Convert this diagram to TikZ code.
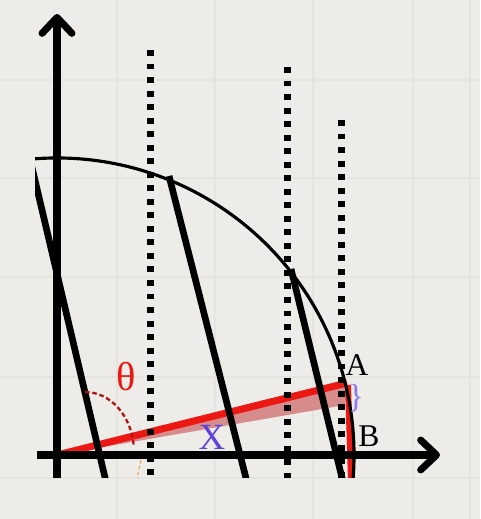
\documentclass[tikz,border=0pt]{standalone}
\usepackage{fontspec}
\setmainfont{Liberation Serif}
\usetikzlibrary{arrows.meta}
\definecolor{papel}{RGB}{237,236,232}
\definecolor{rejilla}{RGB}{229,228,223}
\definecolor{rojo}{RGB}{236,24,20}
\definecolor{rosa}{RGB}{214,140,140}
\definecolor{violeta}{RGB}{98,64,222}
\definecolor{lila}{RGB}{140,122,240}
\definecolor{naranja}{RGB}{232,160,70}
\tikzset{
  eje/.style={
    line width=4pt,
    -{Straight Barb[length=9pt,width=17pt,round]}
  },
  guia/.style={
    line width=3.7pt,
    dash pattern=on 3.4pt off 4.3pt
  },
  corte/.style={
    line width=3.8pt
  },
  circulo/.style={
    line width=1.8pt
  },
  angulo/.style={
    rojo!75!black,
    line width=1.3pt,
    dash pattern=on 2.6pt off 1.6pt
  },
  etiqueta/.style={
    inner sep=0pt,
    font=\fontsize{18}{21}\selectfont
  }
}
\begin{document}
\begin{tikzpicture}[x=0.02cm,y=0.02cm]
\fill[papel] (0,0) rectangle (480,519);
\useasboundingbox (0,0) rectangle (480,519);
% rejilla del papel
\foreach \x in {117,215,313,413,470}
  \draw[rejilla,line width=1pt] (\x,0) -- (\x,519);
\foreach \y in {41,142,242,341,439}
  \draw[rejilla,line width=1pt] (0,\y) -- (480,\y);

\coordinate (O) at (57,64);
\coordinate (A) at (347,136);
\coordinate (Ab) at (345,114);
\coordinate (R1) at (348,134);
\coordinate (R2) at (351,38);

\begin{scope}
\clip (35,41) rectangle (450,519);
% cuña y radio
\fill[rosa] (O) -- (A) -- (Ab) -- cycle;
\draw[rojo,line width=4pt] (O) -- (A);
\draw[rojo,line width=3.4pt] (R1) -- (R2);
% verticales punteadas
\foreach \x/\t in {150.5/469,287.5/452,341.5/399}
  \draw[guia] (\x,\t) -- (\x,38);
% cortes
\draw[corte] (30,360) -- (107,33);
\draw[corte] (169,343) -- (248,33);
\draw[corte] (291,250) -- (344,33);
\draw[circulo] (35,360.2) arc[start angle=94.25,end angle=-6,radius=297];
\end{scope}

% ejes
\coordinate (y0) at (57,41);
\coordinate (y1) at (57,505);
\coordinate (x0) at (37,64);
\coordinate (x1) at (440,64);
\draw[eje] (y0) -- (y1);
\draw[eje] (x0) -- (x1);

% angulo
\coordinate (t0) at (85,127);
\draw[angulo] (t0) arc[start angle=90,end angle=5,x radius=49,y radius=60];
\coordinate (n0) at (141,59);
\coordinate (n1) at (137,41);
\draw[naranja,line width=0.6pt,dash pattern=on 2pt off 1.4pt] (n0) -- (n1);

\node[etiqueta] (lA) at (357,154) {A};
\node[etiqueta] (lB) at (369,83) {B};
\node[etiqueta,text=rojo,font=\fontsize{23}{26}\selectfont] (th) at (126,142) {θ};
\node[etiqueta,text=violeta,font=\fontsize{21}{24}\selectfont] (lX) at (212,82) {X};
\node[etiqueta,text=lila,font=\fontsize{19}{22}\selectfont] (llave) at (356,121) {\}};
\end{tikzpicture}
\end{document}
